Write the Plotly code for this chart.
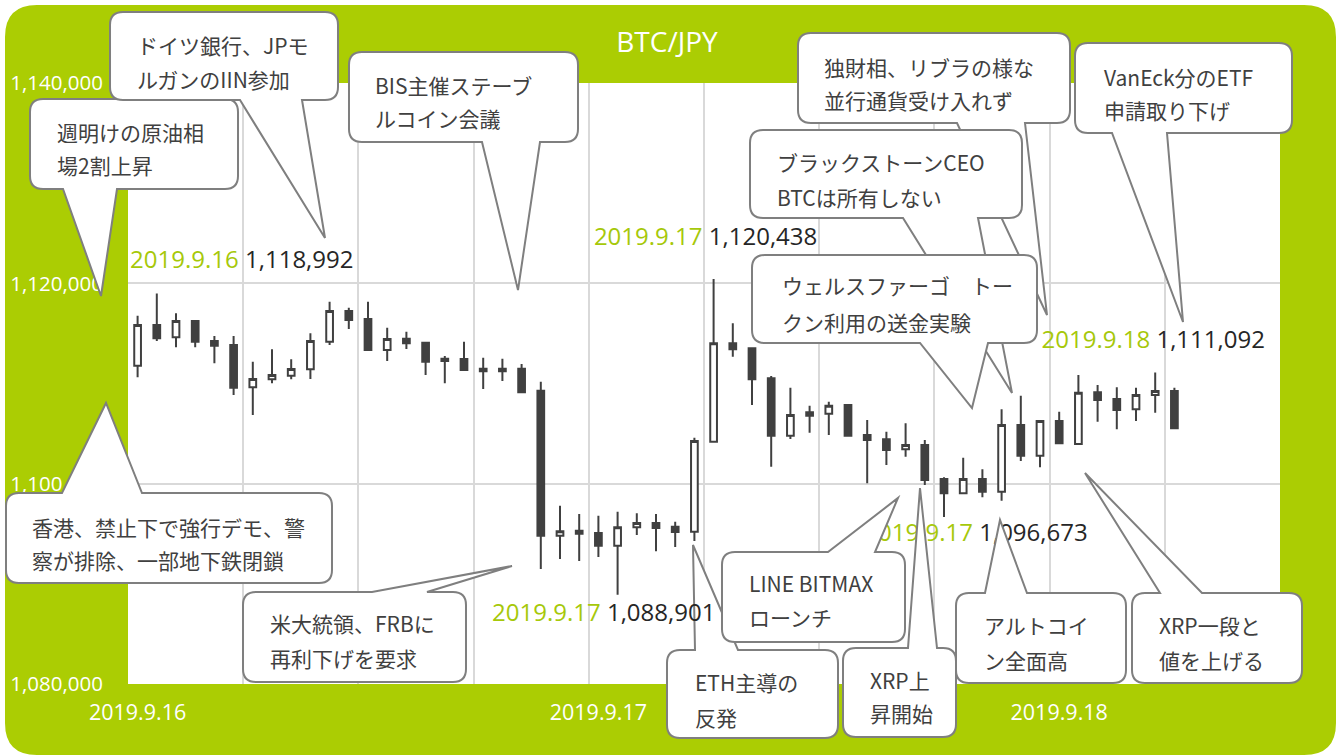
import plotly.graph_objects as go

# ---------------- data ----------------
OPEN = [1111780, 1115840, 1114610, 1116240, 1114240, 1113840, 1109620, 1110420, 1110780, 1111420,
        1114170, 1117240, 1116440, 1113340, 1114470, 1114070, 1112480, 1112450, 1111480, 1111480,
        1111480, 1109280, 1094810, 1095300, 1095080, 1093810, 1095640, 1096070, 1095700, 1095200,
        1104190, 1114010, 1113510, 1110520, 1104790, 1107130, 1106990, 1107850, 1104860, 1104430,
        1103430, 1103860, 1100470, 1099040, 1100470, 1099200, 1105860, 1102790, 1106260, 1103960,
        1109120, 1108450, 1107420, 1108850, 1109250]
HIGH = [1116770, 1118992, 1117010, 1116300, 1114740, 1114740, 1112180, 1113410, 1112420, 1115010,
        1118170, 1117570, 1118170, 1115570, 1115170, 1114100, 1112750, 1114170, 1112580, 1112480,
        1111950, 1110180, 1097800, 1096970, 1096800, 1097200, 1097040, 1096970, 1096200, 1104590,
        1120438, 1116010, 1113600, 1110750, 1109580, 1107780, 1108180, 1107900, 1106360, 1105190,
        1106030, 1104360, 1100640, 1102590, 1101430, 1107420, 1108780, 1106300, 1107190, 1110850,
        1109850, 1109620, 1109580, 1111092, 1109580]
LOW = [1110620, 1114240, 1113610, 1113610, 1112020, 1108850, 1106860, 1110020, 1110420, 1110450,
       1113840, 1115440, 1113270, 1112250, 1113440, 1110850, 1110020, 1111250, 1109450, 1110250,
       1109080, 1091480, 1092480, 1092280, 1092680, 1088901, 1094880, 1093250, 1093680, 1094280,
       1104160, 1112680, 1107850, 1101690, 1104460, 1105090, 1104860, 1104750, 1100040, 1101860,
       1102690, 1099870, 1096673, 1099040, 1098640, 1098300, 1102260, 1101630, 1104000, 1103860,
       1106190, 1105430, 1106260, 1107090, 1105460]
CLOSE = [1115840, 1114510, 1116240, 1114170, 1113770, 1109580, 1110450, 1110850, 1111450, 1114240,
         1117240, 1116340, 1113340, 1114440, 1114010, 1112180, 1112250, 1111350, 1111220, 1111220,
         1109120, 1094810, 1095240, 1095000, 1093810, 1095640, 1096070, 1095570, 1095180, 1104260,
         1114010, 1113410, 1110420, 1104790, 1106860, 1106790, 1107780, 1104790, 1104360, 1103360,
         1103860, 1100370, 1099040, 1100470, 1099200, 1105860, 1102790, 1106260, 1104030, 1109080,
         1108350, 1107350, 1108850, 1109250, 1105530]
X = list(range(len(OPEN)))

DATE_TICK_POS = [0, 24, 48]
DATE_TICK_TEXT = ["2019.9.16", "2019.9.17", "2019.9.18"]
Y_TICKS = [1080000, 1100000, 1120000, 1140000]

# high / low labels: candle index, kind, date text
LABEL_CANDLE = [1, 30, 25, 42, 53]
LABEL_KIND = ["high", "high", "low", "low", "high"]
LABEL_DATE = ["2019.9.16", "2019.9.17", "2019.9.17", "2019.9.17", "2019.9.18"]

TITLE = "BTC/JPY"

# ---------------- layout geometry / style ----------------
W, H = 1340, 756
PL, PR, PT, PB = 128, 1280, 83, 684
GREEN = "#abcd03"
LABEL_GREEN = "#a6c80a"
DARK = "#404040"
EDGE = "#7f7f7f"
GRID = "#d9d9d9"

PX_PER_CANDLE = (PR - PL) / 60.0
YEN_PER_PX = 60000 / (PB - PT)

# label offsets in pixels (dx, dy) from the marked candle extreme, and whether drawn over callouts
LABEL_OFFSET = [(85, -31), (-8, -40), (-14, 17), (32, 18), (-2, -31)]
LABEL_ON_TOP = [False, False, True, False, False]


def P(px, py):
    return (px - PL) / (PR - PL), (PB - py) / (PB - PT)


def fmt(px, py):
    a, b = P(px, py)
    return f"{a:.5f},{b:.5f}"


def callout_path(x0, y0, x1, y1, side, b1, b2, tip, r=13):
    tx, ty = tip
    s = f"M{fmt(x0 + r, y0)}"
    if side == "top":
        s += f" L{fmt(b1, y0)} L{fmt(tx, ty)} L{fmt(b2, y0)}"
    s += f" L{fmt(x1 - r, y0)} Q{fmt(x1, y0)} {fmt(x1, y0 + r)}"
    s += f" L{fmt(x1, y1 - r)} Q{fmt(x1, y1)} {fmt(x1 - r, y1)}"
    if side == "bottom":
        s += f" L{fmt(b2, y1)} L{fmt(tx, ty)} L{fmt(b1, y1)}"
    s += f" L{fmt(x0 + r, y1)} Q{fmt(x0, y1)} {fmt(x0, y1 - r)}"
    s += f" L{fmt(x0, y0 + r)} Q{fmt(x0, y0)} {fmt(x0 + r, y0)} Z"
    return s


CALLOUTS = [
    # box, side, tail base, tip, text lines, text x, text ys
    ((30, 99, 238, 189), "bottom", (63, 117), (101, 296), ["週明けの原油相", "場2割上昇"], 55, [132, 165]),
    ((110, 12, 338, 100), "bottom", (240, 302), (325, 238), ["ドイツ銀行、JPモ", "ルガンのIIN参加"], 135, [45, 79]),
    ((349, 52, 578, 142), "bottom", (482, 540), (518, 290), ["BIS主催ステーブ", "ルコイン会議"], 373, [85, 118]),
    ((798, 33, 1070, 123), "bottom", (957, 1025), (1047, 315), ["独財相、リブラの様な", "並行通貨受け入れず"], 822, [67, 100]),
    ((750, 130, 1022, 218), "bottom", (903, 978), (1012, 393), ["ブラックストーンCEO", "BTCは所有しない"], 775, [162, 197]),
    ((752, 255, 1037, 343), "bottom", (920, 988), (972, 408), ["ウェルスファーゴ　トー", "クン利用の送金実験"], 780, [285, 322]),
    ((1075, 43, 1292, 133), "bottom", (1112, 1167), (1183, 322), ["VanEck分のETF", "申請取り下げ"], 1102, [77, 110]),
    ((6, 493, 332, 583), "top", (62, 142), (106, 403), ["香港、禁止下で強行デモ、警", "察が排除、一部地下鉄閉鎖"], 30, [527, 560]),
    ((243, 592, 466, 682), "top", (372, 427), (512, 566), ["米大統領、FRBに", "再利下げを要求"], 268, [623, 658]),
    ((667, 650, 838, 738), "top", (695, 738), (693, 545), ["ETH主導の", "反発"], 693, [682, 717]),
    ((722, 552, 905, 642), "top", (828, 875), (898, 498), ["LINE BITMAX", "ローンチ"], 747, [583, 617]),
    ((843, 648, 956, 737), "top", (908, 937), (920, 488), ["XRP上", "昇開始"], 868, [680, 713]),
    ((956, 593, 1126, 683), "top", (985, 1027), (1000, 520), ["アルトコイ", "ン全面高"], 982, [625, 660]),
    ((1132, 593, 1302, 683), "top", (1160, 1202), (1085, 473), ["XRP一段と", "値を上げる"], 1157, [625, 660]),
]

LABEL_FONT = dict(family="Open Sans", size=24, color="#262626")

fig = go.Figure()

fig.add_trace(go.Candlestick(
    x=X, open=OPEN, high=HIGH, low=LOW, close=CLOSE,
    increasing=dict(line=dict(color=DARK, width=2), fillcolor="white"),
    decreasing=dict(line=dict(color=DARK, width=2), fillcolor=DARK),
    whiskerwidth=0, showlegend=False, hoverinfo="skip",
))

annotations = []

# high/low value labels
lx, ly, lt = [], [], []
for i, kind, date, (dx, dy), top in zip(LABEL_CANDLE, LABEL_KIND, LABEL_DATE, LABEL_OFFSET, LABEL_ON_TOP):
    v = HIGH[i] if kind == "high" else LOW[i]
    xv = i + dx / PX_PER_CANDLE
    yv = v - dy * YEN_PER_PX
    txt = f'<span style="color:{LABEL_GREEN}">{date}</span> {v:,}'
    if top:
        annotations.append(dict(text=txt, x=xv, y=yv, xref="x", yref="y", xanchor="center",
                                yanchor="middle", showarrow=False, font=LABEL_FONT))
    else:
        lx.append(xv)
        ly.append(yv)
        lt.append(txt)
fig.add_trace(go.Scatter(
    x=lx, y=ly, text=lt, mode="text", textposition="middle center",
    textfont=LABEL_FONT, hoverinfo="skip", showlegend=False, cliponaxis=False,
))

shapes = []
# green rounded frame with a hole for the plot area
R = 32
gx0, gy0, gx1, gy1 = 5, 5, 1336, 755
outer = (f"M{fmt(gx0 + R, gy0)} L{fmt(gx1 - R, gy0)} Q{fmt(gx1, gy0)} {fmt(gx1, gy0 + R)} "
         f"L{fmt(gx1, gy1 - R)} Q{fmt(gx1, gy1)} {fmt(gx1 - R, gy1)} L{fmt(gx0 + R, gy1)} "
         f"Q{fmt(gx0, gy1)} {fmt(gx0, gy1 - R)} L{fmt(gx0, gy0 + R)} Q{fmt(gx0, gy0)} {fmt(gx0 + R, gy0)} Z")
inner = f" M{fmt(PL, PT)} L{fmt(PR, PT)} L{fmt(PR, PB)} L{fmt(PL, PB)} Z"
shapes.append(dict(type="path", path=outer + inner, xref="paper", yref="paper",
                   fillcolor=GREEN, fillrule="evenodd", line=dict(width=0), layer="below"))

for box, side, base, tip, lines, tx, tys in CALLOUTS:
    x0, y0, x1, y1 = box
    shapes.append(dict(type="path", path=callout_path(x0, y0, x1, y1, side, base[0], base[1], tip),
                       xref="paper", yref="paper", fillcolor="white",
                       line=dict(color=EDGE, width=2), layer="above"))
    for line, ty in zip(lines, tys):
        ax, ay = P(tx, ty)
        annotations.append(dict(text=line, x=ax, y=ay, xref="paper", yref="paper",
                                xanchor="left", yanchor="middle", showarrow=False,
                                font=dict(family="Noto Sans CJK JP", size=21, color=DARK)))

fig.update_layout(
    width=W, height=H,
    margin=dict(l=PL, r=W - PR, t=PT, b=H - PB, autoexpand=False),
    paper_bgcolor="white", plot_bgcolor="white",
    title=dict(text=TITLE, x=667 / W, xanchor="center", y=1 - 42 / H, yanchor="middle",
               yref="container", font=dict(family="Open Sans", size=28, color="white")),
    boxgap=0.5,
    shapes=shapes, annotations=annotations,
    showlegend=False,
)
fig.update_xaxes(
    range=[-0.5, 59.5], tickmode="array", tickvals=DATE_TICK_POS, ticktext=DATE_TICK_TEXT,
    showgrid=False, zeroline=False, rangeslider=dict(visible=False), automargin=False,
    tickfont=dict(family="Open Sans", size=21.5, color="white"), ticklabelstandoff=13,
    minor=dict(tickvals=[-0.5 + 6 * k for k in range(11)], showgrid=True, gridcolor=GRID,
               gridwidth=2, ticks=""),
)
fig.update_yaxes(
    range=[1080000, 1140000], tickmode="array", tickvals=Y_TICKS, tickformat=",",
    showgrid=True, gridcolor=GRID, gridwidth=2, zeroline=False, automargin=False,
    tickfont=dict(family="Open Sans", size=20.5, color="white"), ticklabelstandoff=24,
)

fig.write_html("out.html")
